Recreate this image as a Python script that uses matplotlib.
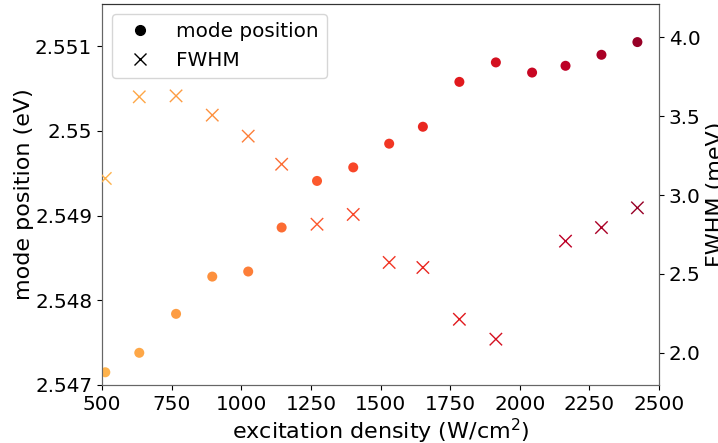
import matplotlib
matplotlib.use("Agg")
import matplotlib.pyplot as plt
import numpy as np
from matplotlib.ticker import FuncFormatter
from matplotlib.lines import Line2D
from matplotlib.colors import Normalize

# data
density_mode = [512, 634, 766, 896, 1025, 1145, 1272, 1402, 1531, 1652, 1783, 1914, 2044, 2164, 2293, 2422]
mode_position = [2.54715, 2.54738, 2.54784, 2.54828, 2.54834, 2.54886, 2.54941, 2.54957,
                 2.54985, 2.55005, 2.55058, 2.55081, 2.55069, 2.55077, 2.55090, 2.55105]
density_fwhm = [512, 634, 766, 896, 1025, 1145, 1272, 1402, 1531, 1652, 1783, 1914, 2164, 2293, 2422]
fwhm = [3.105, 3.622, 3.628, 3.506, 3.373, 3.195, 2.815, 2.877, 2.573, 2.541, 2.213, 2.087,
        2.708, 2.794, 2.919]
left_ticks = [2.547, 2.548, 2.549, 2.550, 2.551]
right_ticks = [2.0, 2.5, 3.0, 3.5, 4.0]
x_ticks = [500, 750, 1000, 1250, 1500, 1750, 2000, 2250, 2500]

FS = 16
TFS = 14.4
fig = plt.figure(figsize=(7.18, 4.43), dpi=100)
ax = fig.add_axes([0.142, 0.131, 0.776, 0.860])
ax2 = ax.twinx()

cmap = plt.get_cmap("YlOrRd")
norm = Normalize(vmin=-734, vmax=2588)

ax.scatter(density_mode, mode_position, c=density_mode, cmap=cmap, norm=norm, s=52,
           marker="o", linewidths=0, zorder=3)
ax2.scatter(density_fwhm, fwhm, c=density_fwhm, cmap=cmap, norm=norm, s=80,
            marker="x", linewidths=1.0, zorder=3)

ax.set_xlim(500, 2500)
ax.set_ylim(2.547, 2.5515)
ax2.set_ylim(1.797, 4.21)
ax.set_xticks(x_ticks)
ax.set_yticks(left_ticks)
ax2.set_yticks(right_ticks)
ax.yaxis.set_major_formatter(FuncFormatter(lambda v, p: "%g" % round(v, 4)))
ax2.yaxis.set_major_formatter(FuncFormatter(lambda v, p: "%.1f" % v))

ax.tick_params(labelsize=TFS)
ax2.tick_params(labelsize=TFS)
ax.set_xlabel("excitation density (W/cm$^2$)", fontsize=FS, labelpad=2)
ax.set_ylabel("mode position (eV)", fontsize=FS, labelpad=1)
ax2.set_ylabel("FWHM (meV)", fontsize=FS, labelpad=4)

for a in (ax, ax2):
    for sp in a.spines.values():
        sp.set_color("0.4")
ax.spines["top"].set_color("0.2")
ax2.spines["top"].set_color("0.2")

handles = [Line2D([], [], marker="o", color="black", linestyle="none", markersize=7),
           Line2D([], [], marker="x", color="black", linestyle="none", markersize=9,
                  markeredgewidth=1.0)]
ax2.legend(handles, ["mode position", "FWHM"], loc="upper left", fontsize=TFS,
           frameon=True)

fig.savefig("out.png", dpi=100)
